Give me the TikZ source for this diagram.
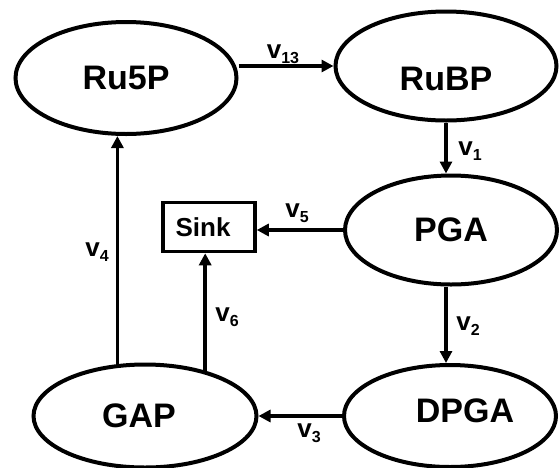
\documentclass[tikz,border=0pt]{standalone}
\usepackage{fontspec}
\setmainfont{Liberation Sans}
\usetikzlibrary{arrows.meta, shapes.geometric, calc}

\newcommand{\vflux}[1]{v\raisebox{-5pt}{\fontsize{16}{16}\selectfont #1}}	%Flussbezeichnung v_i

\begin{document}
\begin{tikzpicture}
			[
			x=1pt, y=-1pt,
			Pool/.style={ellipse, draw, line width=4pt, font=\fontsize{34}{34}\selectfont\bfseries, inner sep=0pt},	%Metabolit-Pools
			SinkBox/.style={rectangle, draw, line width=3.5pt, font=\fontsize{26}{26}\selectfont\bfseries, minimum width=92pt, minimum height=49pt, inner sep=0pt},	%Senke
			Flux/.style={line width=3.5pt, -{Triangle[length=12pt, width=12pt]}},	%Flusspfeil
			FluxLabel/.style={font=\fontsize{26}{26}\selectfont\bfseries, inner sep=0pt}	%Beschriftung der Fluesse
			]
			
			%% Rahmen %%
			\useasboundingbox (0,0) rectangle (560,467);
			
			% Metabolit-Pools
			\node[Pool, minimum width=221pt, minimum height=112pt] (ru5p) at (126,78)  {Ru5P};
			\node[Pool, minimum width=221pt, minimum height=109pt, text height=48pt, text depth=0pt] (rubp) at (446,66) {RuBP};
			\node[Pool, minimum width=212pt, minimum height=109pt] (pga)  at (451,230) {PGA};
			\node[Pool, minimum width=223pt, minimum height=103pt] (gap)  at (145,416) {\hspace*{-12pt}GAP};
			\node[Pool, minimum width=212pt, minimum height=102pt, text depth=10pt] (dpga) at (450,416) {\hspace*{30pt}DPGA};
			\node[SinkBox] (sink) at (209,227) {\hspace*{-12pt}Sink};
			
			% Fluesse
			\draw[Flux] (ru5p.east |- rubp.west) -- (rubp.west);
			\draw[Flux] (rubp.south) -- (rubp.south |- pga.north);
			\draw[Flux] (pga.south -| rubp.south) -- (dpga.north -| rubp.south);
			\draw[Flux] (dpga.west) -- (dpga.west -| gap.east);
			\draw[Flux] (gap.118) -- (gap.118 |- ru5p.south);
			\draw[Flux] (pga.west) -- (pga.west -| sink.east);
			\draw[Flux] (gap.37) -- (gap.37 |- sink.south);
			
			% Beschriftung
			\node[FluxLabel] (l13) at (283,54)  {\vflux{13}};
			\node[FluxLabel] (l1)  at (470,151) {\vflux{1}};
			\node[FluxLabel] (l2)  at (468,326) {\vflux{2}};
			\node[FluxLabel] (l3)  at (309,433) {\vflux{3}};
			\node[FluxLabel] (l4)  at (97,252)  {\vflux{4}};
			\node[FluxLabel] (l5)  at (297,213) {\vflux{5}};
			\node[FluxLabel] (l6)  at (227,317) {\vflux{6}};
		\end{tikzpicture}
\end{document}
